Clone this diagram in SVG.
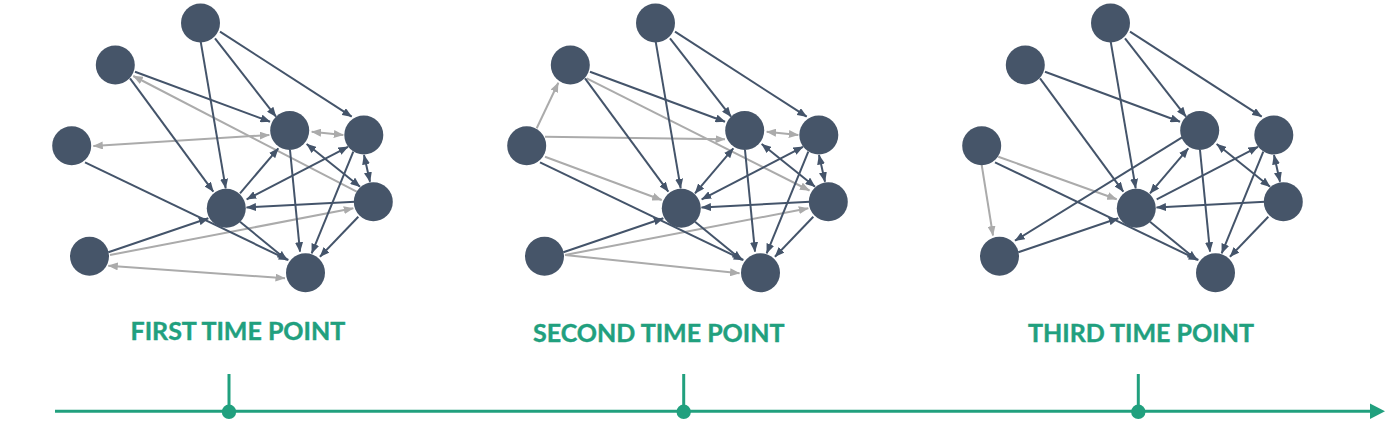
<svg xmlns="http://www.w3.org/2000/svg" width="1397" height="439" viewBox="0 0 1397 439">
<defs>
<style>
.node{fill:#465569}
.dk{stroke:#44546a;stroke-width:2;fill:none;marker-end:url(#ad)}
.gy{stroke:#ababab;stroke-width:2;fill:none;marker-end:url(#ag)}
.dk.bi{marker-start:url(#ad)}
.gy.bi{marker-start:url(#ag)}
.lbl{font-family:Lato,"Liberation Sans",sans-serif;font-weight:700;font-size:25px;fill:#21a07e;stroke:#21a07e;stroke-width:0.4}
.tl{stroke:#21a07e;stroke-width:3;fill:none}
</style>
<marker id="ad" markerUnits="userSpaceOnUse" markerWidth="10" markerHeight="8" refX="9.5" refY="4" orient="auto-start-reverse"><path d="M0,0 L10,4 L0,8 Z" fill="#44546a"/></marker>
<marker id="ag" markerUnits="userSpaceOnUse" markerWidth="10" markerHeight="8" refX="9.5" refY="4" orient="auto-start-reverse"><path d="M0,0 L10,4 L0,8 Z" fill="#ababab"/></marker>
</defs>
<rect width="1397" height="439" fill="#ffffff"/>

<g id="network-1">
<g id="connectors-1">
<line class="gy bi" x1="93.3" y1="146" x2="269.3" y2="135"/>
<line class="gy bi" x1="311.7" y1="131.7" x2="343.3" y2="135"/>
<line class="gy" x1="356.7" y1="191.7" x2="133.3" y2="76"/>
<line class="gy" x1="110" y1="255" x2="353.3" y2="208.3"/>
<line class="gy bi" x1="108.3" y1="265.7" x2="285" y2="278.3"/>
<line class="dk" x1="200.7" y1="41.7" x2="225.7" y2="188.3"/>
<line class="dk" x1="215" y1="38.3" x2="276" y2="116.7"/>
<line class="dk" x1="220" y1="31.7" x2="351.7" y2="116.7"/>
<line class="dk" x1="135" y1="71.7" x2="270" y2="121.7"/>
<line class="dk" x1="130" y1="78.3" x2="213.3" y2="191.7"/>
<line class="dk" x1="85" y1="162.3" x2="288.3" y2="260"/>
<line class="dk" x1="108.3" y1="252.3" x2="208.3" y2="218.3"/>
<line class="dk" x1="240" y1="193.3" x2="278.3" y2="148.3"/>
<line class="dk bi" x1="246.7" y1="199.3" x2="348" y2="146.8"/>
<line class="dk bi" x1="306.7" y1="144" x2="360" y2="186.7"/>
<line class="dk bi" x1="364" y1="155" x2="370" y2="181.7"/>
<line class="dk" x1="355" y1="201.7" x2="246.5" y2="207.5"/>
<line class="dk" x1="290" y1="150" x2="300" y2="251.7"/>
<line class="dk" x1="353.3" y1="151.7" x2="311.7" y2="253.3"/>
<line class="dk" x1="358.3" y1="216.7" x2="320" y2="256.7"/>
<line class="dk" x1="240" y1="221.7" x2="286.7" y2="260"/>
</g>
<g id="t1-a"><circle class="node" cx="200.5" cy="23" r="19.5"/></g>
<g id="t1-b"><circle class="node" cx="115.3" cy="65" r="19.5"/></g>
<g id="t1-c"><circle class="node" cx="71.7" cy="145.8" r="19.5"/></g>
<g id="t1-d"><circle class="node" cx="89.5" cy="256.2" r="19.5"/></g>
<g id="t1-e"><circle class="node" cx="226.3" cy="208.3" r="19.5"/></g>
<g id="t1-f"><circle class="node" cx="289.7" cy="130.5" r="19.5"/></g>
<g id="t1-g"><circle class="node" cx="363.8" cy="135" r="19.5"/></g>
<g id="t1-h"><circle class="node" cx="373.3" cy="201.7" r="19.5"/></g>
<g id="t1-i"><circle class="node" cx="305.5" cy="272.8" r="19.5"/></g>
</g>

<g id="network-2" transform="translate(455,0)">
<g id="connectors-2">
<line class="gy" x1="81.7" y1="128.3" x2="103.3" y2="82.7"/>
<line class="gy" x1="90" y1="136.7" x2="270" y2="139.3"/>
<line class="gy" x1="90" y1="156.7" x2="206.7" y2="200"/>
<line class="gy" x1="131.7" y1="78.3" x2="354.5" y2="190.5"/>
<line class="gy bi" x1="311.7" y1="131.7" x2="343.3" y2="135"/>
<line class="gy" x1="110" y1="255" x2="353.3" y2="208.3"/>
<line class="gy" x1="110" y1="255" x2="284.5" y2="273.3"/>
<line class="dk" x1="200.7" y1="41.7" x2="225.7" y2="188.3"/>
<line class="dk" x1="215" y1="38.3" x2="276" y2="116.7"/>
<line class="dk" x1="220" y1="31.7" x2="351.7" y2="116.7"/>
<line class="dk" x1="135" y1="71.7" x2="270" y2="121.7"/>
<line class="dk" x1="130" y1="78.3" x2="213.3" y2="191.7"/>
<line class="dk" x1="85" y1="162.3" x2="288.3" y2="260"/>
<line class="dk" x1="108.3" y1="252.3" x2="208.3" y2="218.3"/>
<line class="dk bi" x1="240" y1="193.3" x2="278.3" y2="148.3"/>
<line class="dk bi" x1="246.7" y1="199.3" x2="348" y2="146.8"/>
<line class="dk bi" x1="306.7" y1="144" x2="360" y2="186.7"/>
<line class="dk bi" x1="364" y1="155" x2="370" y2="181.7"/>
<line class="dk" x1="355" y1="201.7" x2="246.5" y2="207.5"/>
<line class="dk" x1="290" y1="150" x2="300" y2="251.7"/>
<line class="dk" x1="353.3" y1="151.7" x2="311.7" y2="253.3"/>
<line class="dk" x1="358.3" y1="216.7" x2="320" y2="256.7"/>
<line class="dk" x1="240" y1="221.7" x2="286.7" y2="260"/>
</g>
<g id="t2-a"><circle class="node" cx="200.5" cy="23" r="19.5"/></g>
<g id="t2-b"><circle class="node" cx="115.3" cy="65" r="19.5"/></g>
<g id="t2-c"><circle class="node" cx="71.7" cy="145.8" r="19.5"/></g>
<g id="t2-d"><circle class="node" cx="89.5" cy="256.2" r="19.5"/></g>
<g id="t2-e"><circle class="node" cx="226.3" cy="208.3" r="19.5"/></g>
<g id="t2-f"><circle class="node" cx="289.7" cy="130.5" r="19.5"/></g>
<g id="t2-g"><circle class="node" cx="363.8" cy="135" r="19.5"/></g>
<g id="t2-h"><circle class="node" cx="373.3" cy="201.7" r="19.5"/></g>
<g id="t2-i"><circle class="node" cx="305.5" cy="272.8" r="19.5"/></g>
</g>

<g id="network-3" transform="translate(910,0)">
<g id="connectors-3">
<line class="gy" x1="71.7" y1="165" x2="83" y2="235.5"/>
<line class="gy" x1="88.3" y1="156.7" x2="206.7" y2="199.3"/>
<line class="dk" x1="200.7" y1="41.7" x2="225.7" y2="188.3"/>
<line class="dk" x1="215" y1="38.3" x2="276" y2="116.7"/>
<line class="dk" x1="220" y1="31.7" x2="351.7" y2="116.7"/>
<line class="dk" x1="135" y1="71.7" x2="270" y2="121.7"/>
<line class="dk" x1="130" y1="78.3" x2="213.3" y2="191.7"/>
<line class="dk" x1="85" y1="162.3" x2="288.3" y2="260"/>
<line class="dk" x1="108.3" y1="252.3" x2="208.3" y2="218.3"/>
<line class="dk" x1="273.3" y1="136.7" x2="105" y2="240.7"/>
<line class="dk bi" x1="240" y1="193.3" x2="278.3" y2="148.3"/>
<line class="dk" x1="246.7" y1="199.3" x2="348" y2="146.8"/>
<line class="dk bi" x1="306.7" y1="144" x2="360" y2="186.7"/>
<line class="dk bi" x1="364" y1="155" x2="370" y2="181.7"/>
<line class="dk" x1="355" y1="201.7" x2="246.5" y2="207.5"/>
<line class="dk" x1="290" y1="150" x2="300" y2="251.7"/>
<line class="dk" x1="353.3" y1="151.7" x2="311.7" y2="253.3"/>
<line class="dk" x1="358.3" y1="216.7" x2="320" y2="256.7"/>
<line class="dk" x1="240" y1="221.7" x2="286.7" y2="260"/>
</g>
<g id="t3-a"><circle class="node" cx="200.5" cy="23" r="19.5"/></g>
<g id="t3-b"><circle class="node" cx="115.3" cy="65" r="19.5"/></g>
<g id="t3-c"><circle class="node" cx="71.7" cy="145.8" r="19.5"/></g>
<g id="t3-d"><circle class="node" cx="89.5" cy="256.2" r="19.5"/></g>
<g id="t3-e"><circle class="node" cx="226.3" cy="208.3" r="19.5"/></g>
<g id="t3-f"><circle class="node" cx="289.7" cy="130.5" r="19.5"/></g>
<g id="t3-g"><circle class="node" cx="363.8" cy="135" r="19.5"/></g>
<g id="t3-h"><circle class="node" cx="373.3" cy="201.7" r="19.5"/></g>
<g id="t3-i"><circle class="node" cx="305.5" cy="272.8" r="19.5"/></g>
</g>

<g id="timeline">
<line class="tl" x1="55" y1="411.3" x2="1372" y2="411.3"/>
<polygon points="1370,403.5 1385,411.3 1370,419" fill="#21a07e"/>
<line class="tl" x1="229" y1="374" x2="229" y2="411"/>
<line class="tl" x1="683.7" y1="374" x2="683.7" y2="411"/>
<line class="tl" x1="1138.3" y1="374" x2="1138.3" y2="411"/>
<circle cx="229" cy="411.8" r="7.2" fill="#21a07e"/>
<circle cx="683.7" cy="411.8" r="7.2" fill="#21a07e"/>
<circle cx="1138.3" cy="411.8" r="7.2" fill="#21a07e"/>
</g>
<g id="labels">
<text class="lbl" x="130.5" y="340">FIRST TIME POINT</text>
<text class="lbl" x="533" y="342">SECOND TIME POINT</text>
<text class="lbl" x="1028" y="341.5">THIRD TIME POINT</text>
</g>
</svg>
